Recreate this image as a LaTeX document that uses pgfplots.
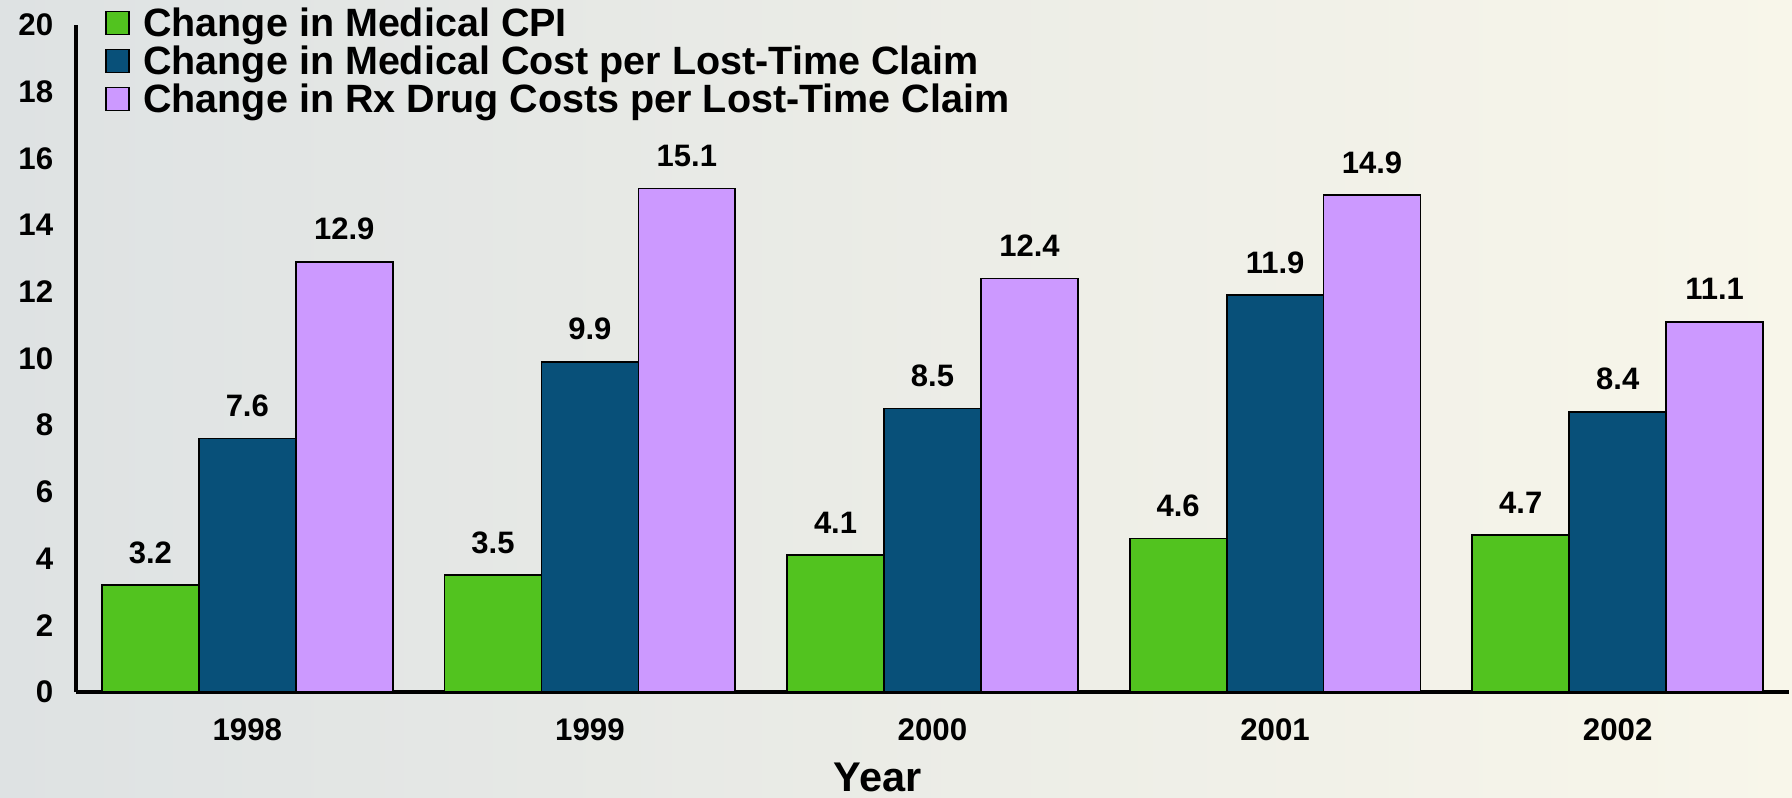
\documentclass[border=0pt]{standalone}
\usepackage{fontspec}
\setmainfont{Liberation Sans}
\usepackage{pgfplots}
\pgfplotsset{compat=1.18}
\usetikzlibrary{backgrounds}

\definecolor{cpigreen}{RGB}{82,195,31}
\definecolor{medblue}{RGB}{8,80,121}
\definecolor{rxlilac}{RGB}{204,153,255}
\definecolor{bgleft}{RGB}{222,226,227}
\definecolor{bgright}{RGB}{248,246,234}

\begin{document}
\begin{tikzpicture}
\begin{axis}[
    scale only axis,
    width=685.2pt, height=266.8pt,
    ybar=0pt,
    bar width=0.283,
    xmin=-0.5, xmax=4.5,
    ymin=0, ymax=20,
    xtick={0,1,2,3,4},
    xticklabels={1998,1999,2000,2001,2002},
    ytick={0,2,...,20},
    major tick length=0pt,
    axis x line=bottom, axis y line=left,
    axis line style={-, line width=1.5pt},
    /pgf/number format/assume math mode=true,
    ticklabel style={font=\bfseries\fontsize{12.5}{14}\selectfont},
    xticklabel style={yshift=-7.1pt},
    yticklabel style={xshift=-5.6pt},
    xlabel={Year},
    xlabel style={at={(axis description cs:0.468,0)}, anchor=north, inner sep=0pt,
        yshift=-28.2pt, font=\bfseries\fontsize{16.6}{18}\selectfont},
    nodes near coords={\pgfmathprintnumber[fixed,fixed zerofill,precision=1]{\pgfplotspointmeta}},
    every node near coord/.append style={font=\bfseries\fontsize{12.4}{14}\selectfont,
        anchor=base, yshift=8.8pt, text=black},
    legend style={draw=none, fill=none, at={(axis description cs:0,1)}, anchor=north west,
        xshift=11.6pt, yshift=8.6pt, inner xsep=0pt, inner ysep=0pt, column sep=5.2pt,
        nodes={inner sep=0pt, text height=13.1pt, text depth=2.1pt},
        font=\bfseries\fontsize{15.8}{15.8}\selectfont},
    legend cell align=left,
    legend image code/.code={\draw[#1, line width=0.7pt] (0pt,-4.6pt) rectangle (9.2pt,4.6pt);},
]
\addplot[fill=cpigreen, draw=black, line width=0.7pt] coordinates {(0,3.2) (1,3.5) (2,4.1) (3,4.6) (4,4.7)};
\addplot[fill=medblue, draw=black, line width=0.7pt] coordinates {(0,7.6) (1,9.9) (2,8.5) (3,11.9) (4,8.4)};
\addplot[fill=rxlilac, draw=black, line width=0.7pt] coordinates {(0,12.9) (1,15.1) (2,12.4) (3,14.9) (4,11.1)};
\legend{Change in Medical CPI, Change in Medical Cost per Lost-Time Claim, Change in Rx Drug Costs per Lost-Time Claim}
\end{axis}
\begin{pgfonlayer}{background}
\shade[left color=bgleft, right color=bgright]
    ([shift={(-30.4pt,-42pt)}]current axis.south west) rectangle ([shift={(1.2pt,10pt)}]current axis.north east);
\end{pgfonlayer}
\pgfresetboundingbox
\useasboundingbox ([shift={(-30.4pt,-42pt)}]current axis.south west) rectangle ([shift={(1.2pt,10pt)}]current axis.north east);
\end{tikzpicture}
\end{document}
